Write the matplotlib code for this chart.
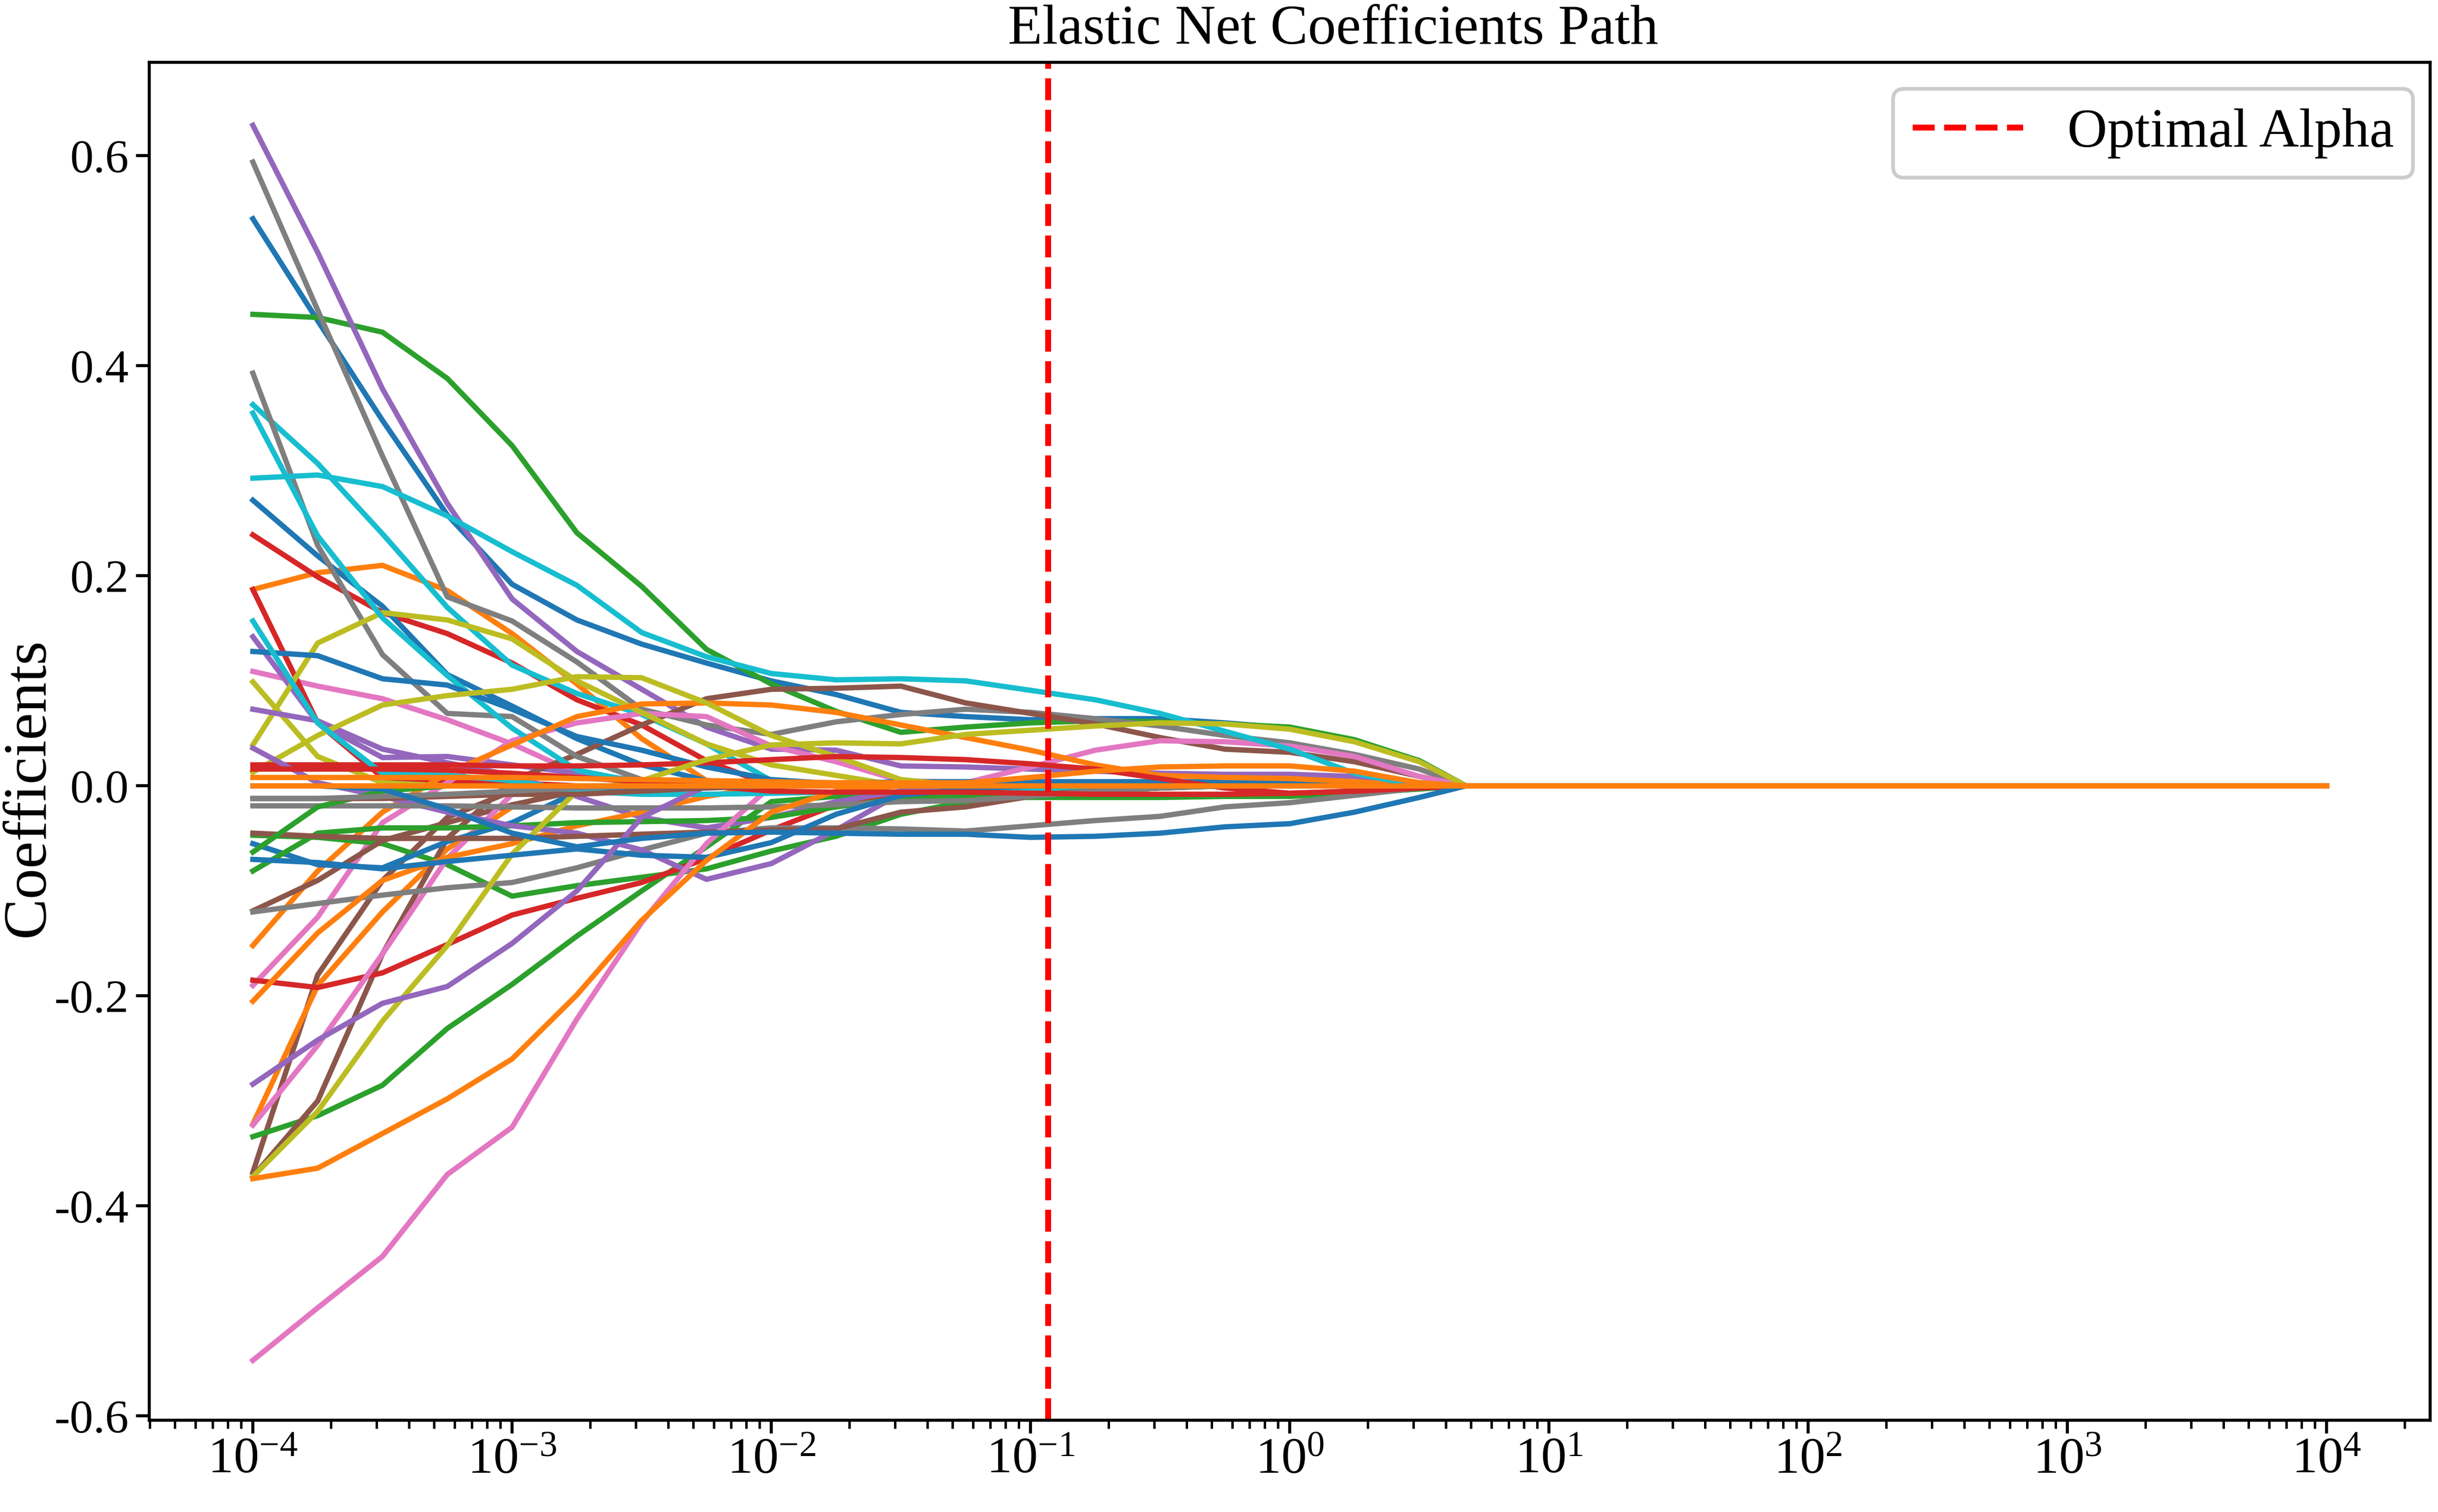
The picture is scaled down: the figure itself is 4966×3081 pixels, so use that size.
import numpy as np
import matplotlib
matplotlib.use("Agg")
import matplotlib.pyplot as plt
from matplotlib.ticker import NullFormatter

plt.rcParams["font.family"] = ["Liberation Serif", "DejaVu Serif"]
plt.rcParams["mathtext.fontset"] = "stix"
plt.rcParams["axes.unicode_minus"] = False

log_alpha = [-4.0, -3.75, -3.5, -3.25, -3.0, -2.75, -2.5, -2.25, -2.0, -1.75,
             -1.5, -1.25, -1.0, -0.75, -0.5, -0.25, 0.0, 0.25, 0.5, 0.68, 4.0]

optimal_alpha = 0.117

blue_paths = [
    [0.540, 0.443, 0.348, 0.258, 0.192, 0.158, 0.135, 0.117, 0.100, 0.087, 0.070, 0.066, 0.063, 0.064, 0.064, 0.060, 0.055, 0.043, 0.024, 0, 0],
    [0.272, 0.219, 0.171, 0.106, 0.076, 0.045, 0.020, 0.005, 0.0, 0, 0, 0, 0, 0, 0, 0, 0, 0, 0, 0, 0],
    [0.128, 0.124, 0.102, 0.096, 0.073, 0.047, 0.034, 0.018, 0.006, 0.002, 0.004, 0.004, 0.004, 0.004, 0.004, 0.004, 0.003, 0.002, 0.001, 0, 0],
    [-0.055, -0.075, -0.078, -0.053, -0.035, -0.006, 0.0, 0, 0, 0, 0, 0, 0, 0, 0, 0, 0, 0, 0, 0, 0],
    [-0.070, -0.073, -0.079, -0.072, -0.066, -0.060, -0.066, -0.068, -0.054, -0.027, -0.009, -0.003, 0, 0, 0, 0, 0, 0, 0, 0, 0],
    [0.0, 0.0, -0.003, -0.022, -0.045, -0.058, -0.050, -0.045, -0.044, -0.045, -0.046, -0.046, -0.049, -0.048, -0.045, -0.039, -0.036, -0.025, -0.011, 0, 0],
]
orange_paths = [
    [0.187, 0.203, 0.210, 0.186, 0.145, 0.097, 0.045, 0.005, 0, 0, 0, 0, 0, 0, 0, 0, 0, 0, 0, 0, 0],
    [-0.322, -0.190, -0.120, -0.060, -0.020, 0.0, 0, 0, 0, 0, 0, 0, 0, 0, 0, 0, 0, 0, 0, 0, 0],
    [-0.152, -0.081, -0.025, 0.012, 0.039, 0.066, 0.078, 0.079, 0.077, 0.070, 0.058, 0.046, 0.034, 0.020, 0.010, 0.008, 0.007, 0.004, 0.0, 0, 0],
    [-0.205, -0.140, -0.090, -0.068, -0.055, -0.038, -0.025, -0.010, 0.0, 0, 0, 0, 0, 0, 0, 0, 0, 0, 0, 0, 0],
    [-0.374, -0.364, -0.331, -0.298, -0.260, -0.199, -0.128, -0.071, -0.025, -0.005, 0, 0, 0, 0, 0, 0, 0, 0, 0, 0, 0],
    [0.008, 0.008, 0.008, 0.008, 0.008, 0.007, 0.006, 0.005, 0.004, 0.003, 0.003, 0.003, 0.008, 0.014, 0.018, 0.019, 0.019, 0.014, 0.003, 0, 0],
    [0, 0, 0, 0, 0, 0, 0, 0, 0, 0, 0, 0, 0, 0, 0, 0, 0, 0, 0, 0, 0],
]
green_paths = [
    [0.449, 0.446, 0.432, 0.388, 0.324, 0.241, 0.190, 0.130, 0.097, 0.071, 0.051, 0.056, 0.060, 0.062, 0.061, 0.059, 0.056, 0.044, 0.024, 0, 0],
    [-0.334, -0.314, -0.285, -0.231, -0.189, -0.143, -0.100, -0.058, -0.015, -0.010, -0.010, -0.011, -0.011, -0.011, -0.011, -0.010, -0.010, -0.007, -0.003, 0, 0],
    [-0.047, -0.049, -0.055, -0.075, -0.105, -0.095, -0.087, -0.079, -0.062, -0.048, -0.027, -0.015, -0.010, -0.005, -0.002, 0, 0, 0, 0, 0, 0],
    [-0.081, -0.045, -0.040, -0.040, -0.038, -0.035, -0.034, -0.033, -0.030, -0.020, -0.012, -0.010, -0.008, -0.005, -0.002, 0, 0, 0, 0, 0, 0],
    [-0.063, -0.020, -0.005, 0, 0, 0, 0, 0, 0, 0, 0, 0, 0, 0, 0, 0, 0, 0, 0, 0, 0],
]
red_paths = [
    [0.239, 0.199, 0.165, 0.145, 0.117, 0.082, 0.058, 0.024, 0.0, 0, 0, 0, 0, 0, 0, 0, 0, 0, 0, 0, 0],
    [0.187, 0.060, 0.008, 0.005, 0.003, 0, 0, 0, 0, 0, 0, 0, 0, 0, 0, 0, 0, 0, 0, 0, 0],
    [-0.185, -0.192, -0.178, -0.151, -0.123, -0.107, -0.092, -0.069, -0.042, -0.018, -0.005, 0, 0, 0, 0, 0, 0, 0, 0, 0, 0],
    [0.020, 0.020, 0.020, 0.020, 0.019, 0.019, 0.020, 0.022, 0.025, 0.028, 0.027, 0.025, 0.021, 0.016, 0.007, -0.002, -0.007, -0.005, -0.002, 0, 0],
    [0.016, 0.016, 0.016, 0.015, 0.012, 0.008, 0.004, 0.0, -0.005, -0.006, -0.006, -0.006, -0.007, -0.008, -0.008, -0.008, -0.007, -0.005, -0.002, 0, 0],
]
purple_paths = [
    [0.629, 0.508, 0.378, 0.269, 0.178, 0.128, 0.092, 0.056, 0.035, 0.034, 0.019, 0.018, 0.016, 0.014, 0.012, 0.011, 0.011, 0.009, 0.003, 0, 0],
    [0.142, 0.060, 0.027, 0.028, 0.020, 0.012, 0.005, 0.002, 0, 0, 0, 0, 0, 0, 0, 0, 0, 0, 0, 0, 0],
    [0.073, 0.062, 0.035, 0.022, 0.010, -0.010, -0.030, -0.040, -0.030, -0.015, -0.005, 0, 0, 0, 0, 0, 0, 0, 0, 0, 0],
    [0.036, 0.003, -0.010, -0.025, -0.038, -0.045, -0.061, -0.089, -0.074, -0.042, -0.007, -0.002, 0, 0, 0, 0, 0, 0, 0, 0, 0],
    [-0.284, -0.242, -0.207, -0.191, -0.150, -0.100, -0.030, 0.0, 0, 0, 0, 0, 0, 0, 0, 0, 0, 0, 0, 0, 0],
]
brown_paths = [
    [-0.368, -0.180, -0.090, -0.030, -0.005, 0, 0, 0, 0, 0, 0, 0, 0, 0, 0, 0, 0, 0, 0, 0, 0],
    [-0.372, -0.300, -0.160, -0.050, 0.005, 0.030, 0.058, 0.083, 0.092, 0.093, 0.095, 0.079, 0.069, 0.059, 0.046, 0.035, 0.032, 0.023, 0.009, 0, 0],
    [-0.119, -0.090, -0.052, -0.035, -0.018, -0.005, 0, 0, 0, 0, 0, 0, 0, 0, 0, 0, 0, 0, 0, 0, 0],
    [-0.045, -0.048, -0.050, -0.050, -0.050, -0.048, -0.046, -0.044, -0.042, -0.041, -0.025, -0.020, -0.010, -0.003, 0, 0, 0, 0, 0, 0, 0],
    [-0.012, -0.012, -0.012, -0.010, -0.008, -0.008, -0.005, -0.002, 0, 0, 0, 0, 0, 0, 0, 0, 0, 0, 0, 0, 0],
]
pink_paths = [
    [0.109, 0.095, 0.083, 0.063, 0.040, 0.012, 0.003, 0, 0, 0, 0, 0, 0, 0, 0, 0, 0, 0, 0, 0, 0],
    [-0.190, -0.125, -0.035, 0.003, 0.043, 0.060, 0.069, 0.066, 0.038, 0.023, 0.005, 0.003, 0.018, 0.034, 0.043, 0.042, 0.038, 0.028, 0.009, 0, 0],
    [-0.323, -0.247, -0.160, -0.069, -0.008, 0.0, 0, 0, 0, 0, 0, 0, 0, 0, 0, 0, 0, 0, 0, 0, 0],
    [-0.547, -0.497, -0.448, -0.370, -0.325, -0.222, -0.130, -0.055, 0.0, 0, 0, 0, 0, 0, 0, 0, 0, 0, 0, 0, 0],
]
gray_paths = [
    [0.594, 0.453, 0.314, 0.180, 0.157, 0.118, 0.073, 0.058, 0.049, 0.061, 0.068, 0.073, 0.070, 0.064, 0.057, 0.048, 0.041, 0.030, 0.016, 0, 0],
    [0.393, 0.229, 0.125, 0.069, 0.066, 0.028, 0.006, 0, 0, 0, 0, 0, 0, 0, 0, 0, 0, 0, 0, 0, 0],
    [-0.120, -0.112, -0.104, -0.097, -0.092, -0.078, -0.061, -0.045, -0.040, -0.040, -0.041, -0.043, -0.038, -0.033, -0.029, -0.020, -0.016, -0.009, -0.002, 0, 0],
    [-0.019, -0.019, -0.019, -0.019, -0.020, -0.021, -0.021, -0.021, -0.020, -0.018, -0.015, -0.014, -0.010, -0.005, -0.002, 0, 0, 0, 0, 0, 0],
    [-0.012, -0.012, -0.010, -0.008, -0.005, -0.002, 0, 0, 0, 0, 0, 0, 0, 0, 0, 0, 0, 0, 0, 0, 0],
]
olive_paths = [
    [0.099, 0.028, 0.003, 0.0, 0, 0, 0, 0, 0, 0, 0, 0, 0, 0, 0, 0, 0, 0, 0, 0, 0],
    [0.039, 0.136, 0.165, 0.158, 0.140, 0.100, 0.070, 0.040, 0.020, 0.010, 0.0, 0, 0, 0, 0, 0, 0, 0, 0, 0, 0],
    [0.013, 0.048, 0.077, 0.086, 0.092, 0.104, 0.103, 0.079, 0.048, 0.028, 0.006, 0, 0, 0, 0, 0, 0, 0, 0, 0, 0],
    [-0.372, -0.310, -0.224, -0.152, -0.065, -0.005, 0.005, 0.025, 0.039, 0.041, 0.040, 0.049, 0.053, 0.057, 0.060, 0.059, 0.054, 0.042, 0.023, 0, 0],
]
cyan_paths = [
    [0.363, 0.307, 0.240, 0.170, 0.115, 0.088, 0.068, 0.040, 0.005, 0, 0, 0, 0, 0, 0, 0, 0, 0, 0, 0, 0],
    [0.355, 0.238, 0.160, 0.105, 0.055, 0.015, 0.003, 0, 0, 0, 0, 0, 0, 0, 0, 0, 0, 0, 0, 0, 0],
    [0.293, 0.296, 0.285, 0.257, 0.223, 0.191, 0.146, 0.123, 0.107, 0.101, 0.102, 0.100, 0.091, 0.082, 0.069, 0.052, 0.035, 0.012, 0.0, 0, 0],
    [0.157, 0.060, 0.012, 0.010, 0.005, -0.005, -0.008, -0.008, -0.007, -0.006, -0.006, -0.006, -0.003, 0, 0, 0, 0, 0, 0, 0, 0],
]

groups = [
    (blue_paths, "#1f77b4"), (orange_paths, "#ff7f0e"), (green_paths, "#2ca02c"),
    (red_paths, "#d62728"), (purple_paths, "#9467bd"), (brown_paths, "#8c564b"),
    (pink_paths, "#e377c2"), (gray_paths, "#7f7f7f"), (olive_paths, "#bcbd22"),
    (cyan_paths, "#17becf"),
]

alphas = 10.0 ** np.array(log_alpha)

fig = plt.figure(figsize=(4966 / 300, 3081 / 300), dpi=300)
ax = fig.add_axes([0.0612, 0.0607, 0.9356, 0.8981])

# draw interleaved like a color cycle, so the all-zero orange path ends on top
n_max = max(len(g) for g, _ in groups)
for i in range(n_max):
    for paths, col in groups:
        if i < len(paths):
            ax.plot(alphas, paths[i], color=col, lw=2.6)

ax.axvline(optimal_alpha, color="red", ls="--", lw=2.9, label="Optimal Alpha")

ax.set_xscale("log")
ax.set_xlim(10 ** -4.4, 10 ** 4.4)
ax.xaxis.set_minor_formatter(NullFormatter())
ax.set_ylim(-0.604, 0.689)
ax.set_yticks([-0.6, -0.4, -0.2, 0.0, 0.2, 0.4, 0.6])
ax.set_yticklabels(["-0.6", "-0.4", "-0.2", "0.0", "0.2", "0.4", "0.6"])

ax.tick_params(axis="y", which="major", labelsize=23, length=6.5, width=1.5)
ax.tick_params(axis="x", which="major", labelsize=25, length=6.5, width=1.5, pad=2)
ax.tick_params(axis="x", which="minor", length=4, width=1.2)
for s in ax.spines.values():
    s.set_linewidth(1.5)

ax.set_title("Elastic Net Coefficients Path", fontsize=27.5, pad=9, x=0.519)
ax.set_ylabel("Coefficients", fontsize=30)
ax.yaxis.set_label_coords(-0.0405, 0.466)
leg = ax.legend(loc="upper right", bbox_to_anchor=(0.9925, 0.9805),
                borderaxespad=0, fontsize=27, handlelength=2.0,
                borderpad=0.35, framealpha=1.0)
leg.get_frame().set_edgecolor("#cccccc")
leg.get_frame().set_linewidth(1.8)

fig.savefig("out.png", dpi=300)
